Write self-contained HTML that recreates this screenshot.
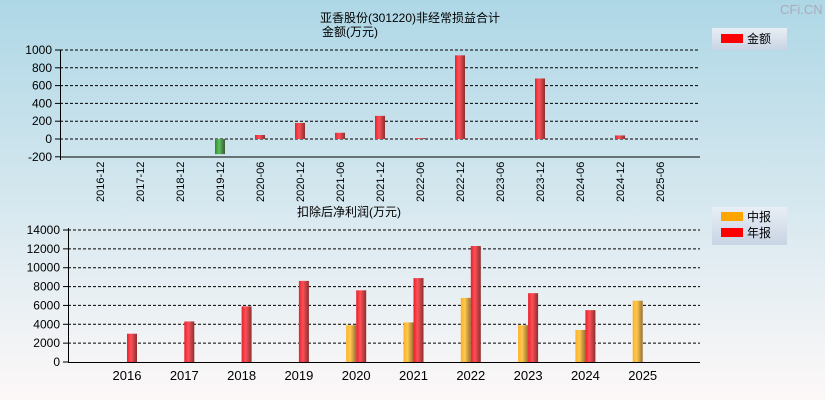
<!DOCTYPE html>
<html><head><meta charset="utf-8"><style>
body{margin:0;width:825px;height:400px;overflow:hidden;font-family:"Liberation Sans","Noto Sans CJK SC",sans-serif}
</style></head><body>
<svg id="c" width="825" height="400" xmlns="http://www.w3.org/2000/svg">
<defs>
<linearGradient id="bg" x1="0" y1="0" x2="0" y2="1"><stop offset="0" stop-color="#aed7e6"/><stop offset="1" stop-color="#fdf8f8"/></linearGradient>
<linearGradient id="red" x1="0" y1="0" x2="1" y2="0"><stop offset="0" stop-color="#e8202a"/><stop offset="0.4" stop-color="#ff5058"/><stop offset="1" stop-color="#8a3030"/></linearGradient>
<linearGradient id="grn" x1="0" y1="0" x2="1" y2="0"><stop offset="0" stop-color="#2a8a2a"/><stop offset="0.4" stop-color="#5cc05c"/><stop offset="1" stop-color="#3a5a3a"/></linearGradient>
<linearGradient id="org" x1="0" y1="0" x2="1" y2="0"><stop offset="0" stop-color="#ffb020"/><stop offset="0.4" stop-color="#ffc850"/><stop offset="1" stop-color="#9a7030"/></linearGradient>
<linearGradient id="lg" x1="0" y1="0" x2="0" y2="1"><stop offset="0" stop-color="#e8eef5"/><stop offset="1" stop-color="#c8d4e4"/></linearGradient>
</defs>
<rect width="825" height="400" fill="url(#bg)"/>
<text x="780" y="14" font-size="13" fill="#aab">CFi.CN</text>
<text x="410" y="22" font-size="12" text-anchor="middle">亚香股份(301220)非经常损益合计</text>
<text x="322" y="36" font-size="12">金额(万元)</text>
<text x="297" y="216" font-size="12">扣除后净利润(万元)</text>
<g><rect x="712" y="28" width="75" height="22" fill="url(#lg)"/><rect x="721" y="34" width="22" height="9" fill="#f00"/><text x="747" y="43" font-size="12">金额</text></g>
<g><rect x="712" y="207" width="75" height="38" fill="url(#lg)"/><rect x="721" y="212" width="22" height="9" fill="#ffa500"/><text x="747" y="221" font-size="12">中报</text><rect x="721" y="228" width="22" height="9" fill="#f00"/><text x="747" y="237" font-size="12">年报</text></g>
<g id="top"></g><g id="bot"></g>
</svg>
<script>
const topCats=["2016-12","2017-12","2018-12","2019-12","2020-06","2020-12","2021-06","2021-12","2022-06","2022-12","2023-06","2023-12","2024-06","2024-12","2025-06"];
const topVals=[0,0,0,-170,45,180,70,260,10,940,0,680,0,40,0];
const topTicks=[-200,0,200,400,600,800,1000];
const botYears=["2016","2017","2018","2019","2020","2021","2022","2023","2024","2025"];
const botAnnual=[3000,4300,5900,8600,7600,8900,12300,7300,5500,null];
const botHalf=[null,null,null,null,3900,4200,6800,3900,3400,6500];
const botTicks=[0,2000,4000,6000,8000,10000,12000,14000];
const NS="http://www.w3.org/2000/svg";
function mk(p,t,a,txt){const e=document.createElementNS(NS,t);for(const k in a)e.setAttribute(k,a[k]);if(txt!==undefined)e.textContent=txt;p.appendChild(e);return e;}
// top
const T=document.getElementById('top');
const ty=v=>139-(v)*89/1000, tx=i=>100+i*40;
topTicks.forEach(v=>{const g=mk(T,'g',{});


if(v!==-200)mk(g,'line',{x1:60,x2:700,y1:ty(v),y2:ty(v),stroke:'#000','stroke-dasharray':'3,2','stroke-width':1});
mk(g,'line',{x1:55,x2:60,y1:ty(v),y2:ty(v),stroke:'#000'});
mk(g,'text',{x:52,y:ty(v)+4,'font-size':12,'text-anchor':'end'},String(v));});
mk(T,'line',{x1:60.5,x2:60.5,y1:50,y2:160,stroke:'#000'});
mk(T,'line',{x1:60,x2:700,y1:157,y2:157,stroke:'#000'});
topCats.forEach((c,i)=>{const x=tx(i);
const b=mk(T,'rect',{x:x-5,width:10,y:Math.min(ty(0),ty(topVals[i])),height:Math.abs(ty(topVals[i])-ty(0)),fill:topVals[i]<0?'url(#grn)':'url(#red)'});


const t=mk(T,'text',{transform:`translate(${x+4},202) rotate(-90)`,'font-size':11},c);

});
// bottom
const B=document.getElementById('bot');
const by=v=>362-v*132/14000, bx=i=>127+i*57.3;
botTicks.forEach(v=>{const g=mk(B,'g',{});


if(v>0)mk(g,'line',{x1:68,x2:700,y1:by(v),y2:by(v),stroke:'#000','stroke-dasharray':'3,2'});
mk(g,'line',{x1:63,x2:68,y1:by(v),y2:by(v),stroke:'#000'});
mk(g,'text',{x:60,y:by(v)+4,'font-size':12,'text-anchor':'end'},String(v));});
mk(B,'line',{x1:68.5,x2:68.5,y1:228,y2:362,stroke:'#000'});
mk(B,'line',{x1:68,x2:700,y1:362.5,y2:362.5,stroke:'#000'});
botYears.forEach((y,i)=>{const x=bx(i);
if(botHalf[i]!=null){const r=mk(B,'rect',{x:x-10,width:10,y:by(botHalf[i]),height:by(0)-by(botHalf[i]),fill:'url(#org)'});

}
if(botAnnual[i]!=null){const r=mk(B,'rect',{x:x,width:10,y:by(botAnnual[i]),height:by(0)-by(botAnnual[i]),fill:'url(#red)'});

}
const t=mk(B,'text',{x:x,y:380,'font-size':13,'text-anchor':'middle'},y);

});
</script>
</body></html>
